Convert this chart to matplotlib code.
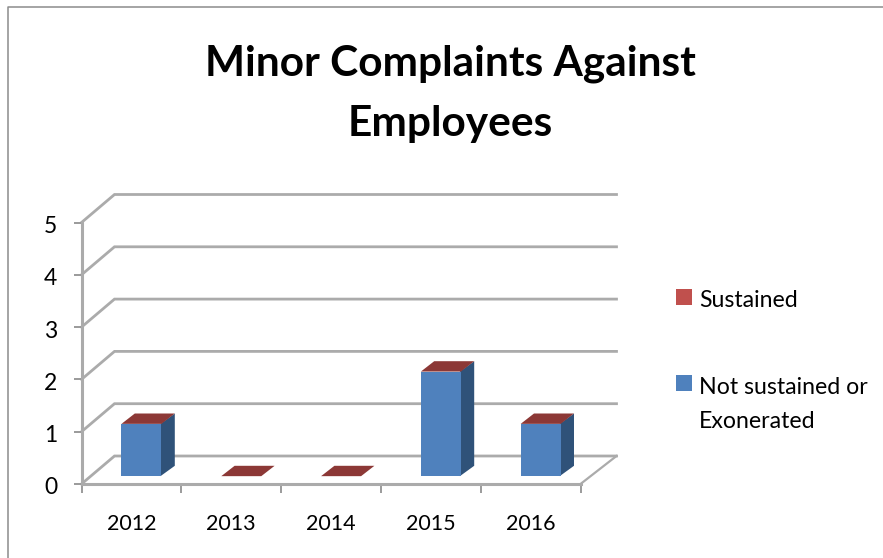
import matplotlib
matplotlib.use("Agg")
import matplotlib.pyplot as plt
from matplotlib.lines import Line2D
from matplotlib.patches import Rectangle
from matplotlib.transforms import ScaledTranslation

W, H = 883, 558
years = ["2012", "2013", "2014", "2015", "2016"]
not_sustained = [1, 0, 0, 2, 1]
sustained = [0, 0, 0, 0, 0]
y_ticks = [0, 1, 2, 3, 4, 5]
title = "Minor Complaints Against\nEmployees"
legend_labels = ["Sustained", "Not sustained or", "Exonerated"]

BLUE, BLUE_SIDE, RED, RED_TOP = "#4F81BD", "#2F5279", "#C0504D", "#8C3836"
GRID = "#ABABAB"
FONT = "Lato"
plt.rcParams["font.family"] = [FONT, "DejaVu Sans"]

fig = plt.figure(figsize=(W / 100, H / 100), dpi=100, facecolor="white")
L, R, T, B = 81.5, 580.5, 222.5, 484
ax = fig.add_axes([L / W, 1 - B / H, (R - L) / W, (B - T) / H])
ax.set_xlim(0, 5)
ax.set_ylim(0, 5)
ax.patch.set_alpha(0)
for s in ax.spines.values():
    s.set_visible(False)

# depth of the 3D box, in data units
UX, UY = (R - L) / 5, (B - T) / 5
DX, DY = 36 / UX, 28 / UY


def px(x_px, y_px):
    return x_px / W, 1 - y_px / H


# chart frame
fig.add_artist(Line2D([8 / W, 8 / W, 1], [0, 1 - 7 / H, 1 - 7 / H], color="#8C8C8C", lw=1.1))

# walls, floor and gridlines
for v in y_ticks:
    ax.plot([0, 33 / UX, 5 + DX], [v, v + DY, v + DY], color=GRID, lw=2.0, clip_on=False,
            solid_joinstyle="miter", zorder=1)
ax.plot([5, 5 + DX], [0, DY], color=GRID, lw=1.6, clip_on=False, zorder=1)
ax.plot([0, 5], [0, 0], color=GRID, lw=2.2, clip_on=False, zorder=2)
ax.plot([0, 0], [0, 5], color=GRID, lw=2.2, clip_on=False, zorder=2)

# bars
BAR_W = 40 / UX
D0, D1 = 0.28, 0.65
for i, (a, b) in enumerate(zip(not_sustained, sustained)):
    x0 = i + 0.5 - BAR_W / 2 + D0 * DX
    x1 = x0 + BAR_W
    y0 = D0 * DY
    dx, dy = (D1 - D0) * DX, (D1 - D0) * DY
    h = a + b
    if a > 0:
        ax.fill([x1 - 0.01, x1 + dx, x1 + dx, x1 - 0.01], [y0, y0 + dy, y0 + h + dy, y0 + h],
                color=BLUE_SIDE, lw=0, zorder=3)
        ax.fill([x0, x1, x1, x0], [y0, y0, y0 + a, y0 + a], color=BLUE, lw=0, zorder=4)
    ax.fill([x0, x1, x1 + dx, x0 + dx], [y0 + h, y0 + h, y0 + h + dy, y0 + h + dy],
            color=RED_TOP, lw=0, zorder=5)

# axes ticks and labels
ax.set_yticks(y_ticks)
ax.set_yticklabels([str(v) for v in y_ticks])
ax.set_xticks(range(6))
ax.set_xticklabels([])
ax.set_xticks([i + 0.5 for i in range(5)], labels=years, minor=True)
ax.tick_params(axis="y", length=5.5, width=1.4, color="#9A9A9A", pad=12, labelsize=16.5, labelcolor="black")
ax.tick_params(axis="x", which="major", length=6.5, width=1.2, color="#8A8A8A")
ax.tick_params(axis="x", which="minor", length=0, pad=21.5, labelsize=15.5, labelcolor="black")
down = ScaledTranslation(0, -2 / 100, fig.dpi_scale_trans)
for lab in ax.get_yticklabels():
    lab.set_transform(lab.get_transform() + down)

# title
fig.text(450 / W, 1 - 94 / H, title, ha="center", va="center", fontsize=30.5, fontweight="bold",
         color="black", linespacing=1.72)

# legend
for (py, c) in [(289, RED), (375, BLUE)]:
    fig.add_artist(Rectangle(px(676, py + 16), 16 / W, 16 / H, transform=fig.transFigure,
                             facecolor=c, edgecolor="none"))
for label, cy in zip(legend_labels, [300.5, 387.5, 421.5]):
    xp, yp = px(699, cy)
    fig.text(xp, yp, label, ha="left", va="center", fontsize=16.7, color="black")

fig.savefig("out.png", dpi=100)
